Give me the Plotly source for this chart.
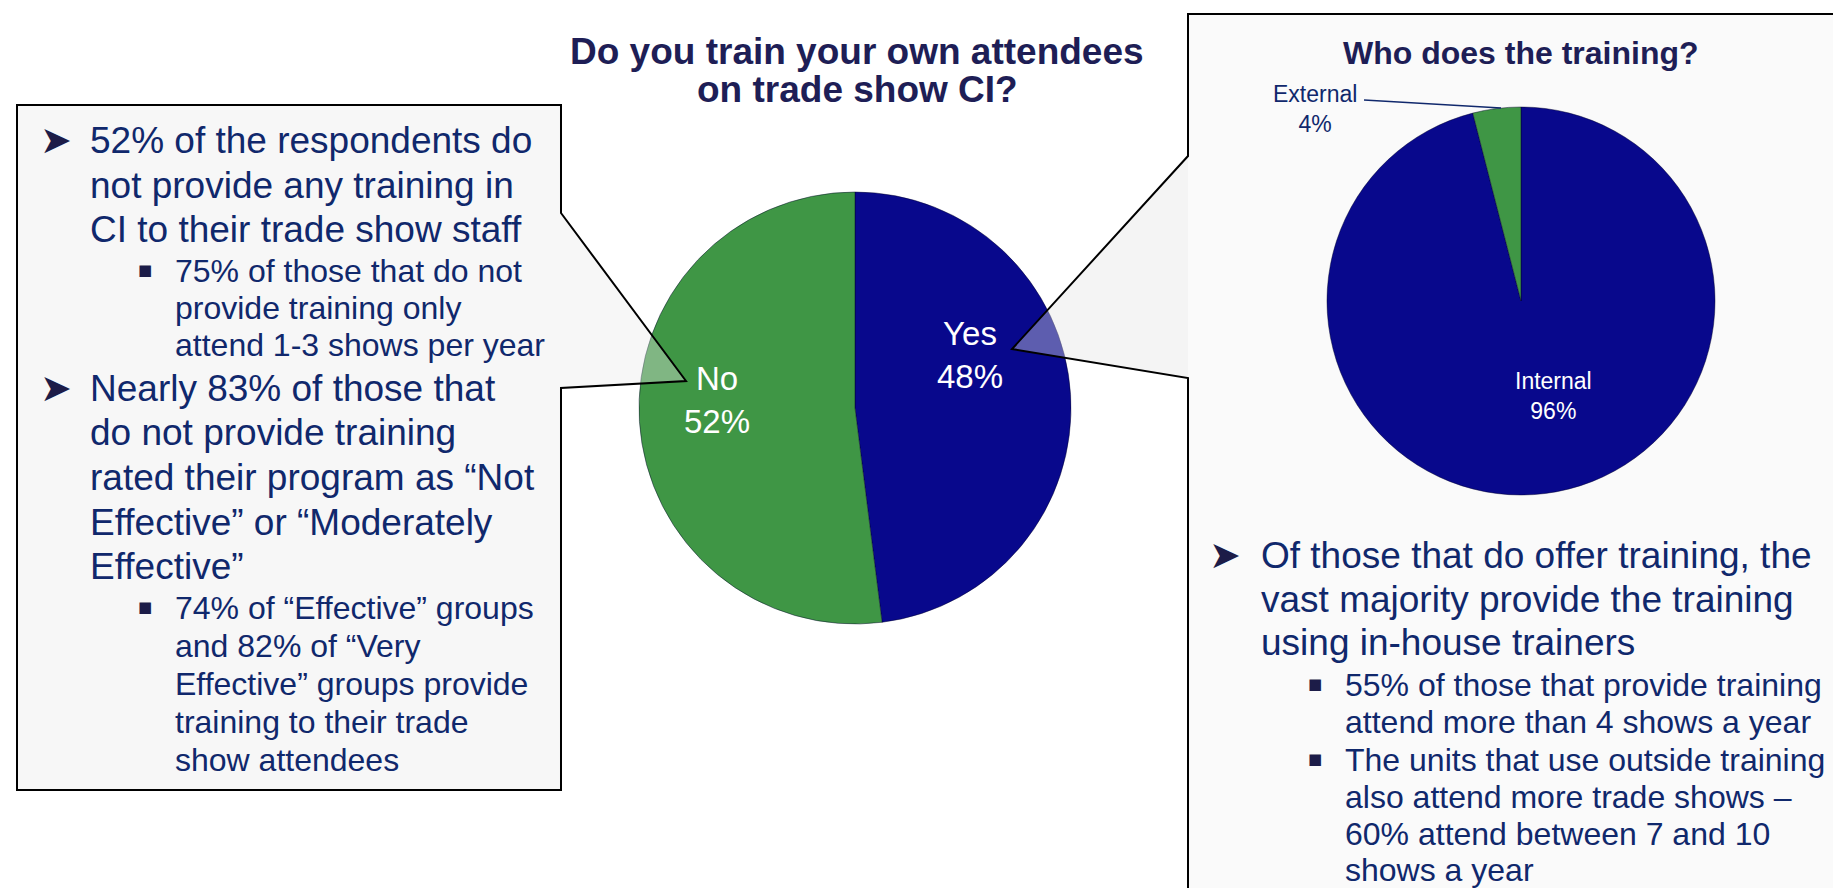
import plotly.graph_objects as go

W, H = 1841, 888

# ---------------- data ----------------
main_title = ["Do you train your own attendees", "on trade show CI?"]
main_labels = ["Yes", "No"]
main_values = [48, 52]

who_title = "Who does the training?"
who_labels = ["Internal", "External"]
who_values = [96, 4]

left_text = [
    ("52% of the respondents do", 1, True),
    ("not provide any training in", 1, False),
    ("CI to their trade show staff", 1, False),
    ("75% of those that do not", 2, True),
    ("provide training only", 2, False),
    ("attend 1-3 shows per year", 2, False),
    ("Nearly 83% of those that", 1, True),
    ("do not provide training", 1, False),
    ("rated their program as \u201cNot", 1, False),
    ("Effective\u201d or \u201cModerately", 1, False),
    ("Effective\u201d", 1, False),
    ("74% of \u201cEffective\u201d groups", 2, True),
    ("and 82% of \u201cVery", 2, False),
    ("Effective\u201d groups provide", 2, False),
    ("training to their trade", 2, False),
    ("show attendees", 2, False),
]
right_text = [
    ("Of those that do offer training, the", 1, True),
    ("vast majority provide the training", 1, False),
    ("using in-house trainers", 1, False),
    ("55% of those that provide training", 2, True),
    ("attend more than 4 shows a year", 2, False),
    ("The units that use outside training", 2, True),
    ("also attend more trade shows \u2013", 2, False),
    ("60% attend between 7 and 10", 2, False),
    ("shows a year", 2, False),
]

# ---------------- layout / style ----------------
left_baselines = [145, 190, 234, 274, 311, 348, 393, 437, 482, 527, 571, 611, 649, 687, 725, 763]
right_baselines = [560, 604, 647, 688, 725, 763, 800, 837, 873]

FONT = "Arial, Liberation Sans, sans-serif"
NAVY = "#10286c"
TITLE = "#1e1e56"
BLUE = "#08088c"
GREEN = "#3f9645"
colors_main = [BLUE, GREEN]
colors_who = [BLUE, GREEN]


def px(x):
    return x / W


def py(y):
    return 1 - y / H


def ann(x, y, text, size, color, xanchor="left", yanchor="middle", family=FONT):
    return dict(x=px(x), y=py(y), xref="paper", yref="paper", text=text,
                showarrow=False, xanchor=xanchor, yanchor=yanchor,
                font=dict(size=size, color=color, family=family))


def dom(cx, cy, r):
    return dict(x=[px(cx - r), px(cx + r)], y=[py(cy + r), py(cy - r)])


fig = go.Figure()

fig.add_trace(go.Pie(
    labels=main_labels, values=main_values, sort=False, direction="clockwise",
    rotation=0, marker=dict(colors=colors_main, line=dict(color="rgba(0,0,40,0.45)", width=1)),
    textinfo="none", hoverinfo="skip", showlegend=False,
    domain=dom(847, 400, 216),
))
fig.add_trace(go.Pie(
    labels=who_labels, values=who_values, sort=False, direction="clockwise",
    rotation=0, marker=dict(colors=colors_who, line=dict(color="rgba(0,0,40,0.45)", width=1)),
    textinfo="none", hoverinfo="skip", showlegend=False,
    domain=dom(1513, 293, 194),
))

annotations = []

# titles
annotations.append(ann(849, 43, "<b>%s</b>" % main_title[0], 37, TITLE, xanchor="center"))
annotations.append(ann(849, 81, "<b>%s</b>" % main_title[1], 37, TITLE, xanchor="center"))
annotations.append(ann(1513, 45, "<b>%s</b>" % who_title, 32, TITLE, xanchor="center"))

# main pie labels
annotations.append(ann(962, 347, "%s<br>%d%%" % (main_labels[0], main_values[0]), 33, "white", xanchor="center"))
annotations.append(ann(709, 392, "%s<br>%d%%" % (main_labels[1], main_values[1]), 33, "white", xanchor="center"))

# who pie labels
annotations.append(ann(1545, 388, "%s<br>%d%%" % (who_labels[0], who_values[0]), 23, "white", xanchor="center"))
annotations.append(ann(1307, 101, "%s<br>%d%%" % (who_labels[1], who_values[1]), 23, NAVY, xanchor="center"))


def add_block(lines, baselines, x1, x2, b1x, b2x):
    for (txt, lvl, bul), base in zip(lines, baselines):
        size = 37 if lvl == 1 else 32
        x = x1 if lvl == 1 else x2
        annotations.append(ann(x, base - 0.34 * size, txt, size, NAVY))
        if bul:
            if lvl == 1:
                annotations.append(ann(b1x, base - 13, "\u27a4", 38, "#1c1c48",
                                       xanchor="center", family="DejaVu Sans"))
            else:
                annotations.append(ann(b2x, base - 12, "\u25a0", 15, "#1c1c48",
                                       xanchor="center", family="DejaVu Sans"))


add_block(left_text, left_baselines, 80, 165, 48, 137)
add_block(right_text, right_baselines, 1251, 1335, 1217, 1307)


def path(points):
    return "M " + " L ".join("%.5f,%.5f" % (px(x), py(y)) for x, y in points) + " Z"


left_box = [(9, 97), (553, 97), (553, 205), (678, 373), (553, 380), (553, 782), (9, 782)]
right_box = [(1180, 6), (1850, 6), (1850, 900), (1180, 900), (1180, 370), (1004, 341), (1180, 148)]
right_tip = [(1180, 148), (1004, 341), (1180, 370)]

shapes = [
    # right box background (below pies)
    dict(type="path", path=path(right_box), xref="paper", yref="paper", layer="below",
         fillcolor="#fafafa", line=dict(width=0)),
    # left box (above, translucent so overlap shows)
    dict(type="path", path=path(left_box), xref="paper", yref="paper", layer="above",
         fillcolor="rgba(235,235,235,0.38)", line=dict(color="black", width=2)),
    # right tip overlay
    dict(type="path", path=path(right_tip), xref="paper", yref="paper", layer="above",
         fillcolor="rgba(235,235,235,0.38)", line=dict(width=0)),
    # right box outline
    dict(type="path", path=path(right_box), xref="paper", yref="paper", layer="above",
         fillcolor="rgba(0,0,0,0)", line=dict(color="black", width=2)),
    # External leader line
    dict(type="line", x0=px(1356), y0=py(92), x1=px(1493), y1=py(100), xref="paper", yref="paper",
         layer="above", line=dict(color=NAVY, width=1.5)),
]

fig.update_layout(
    width=W, height=H, autosize=False,
    margin=dict(l=0, r=0, t=0, b=0),
    paper_bgcolor="white", plot_bgcolor="white",
    annotations=annotations, shapes=shapes,
    showlegend=False,
)

fig.write_html("out.html")
